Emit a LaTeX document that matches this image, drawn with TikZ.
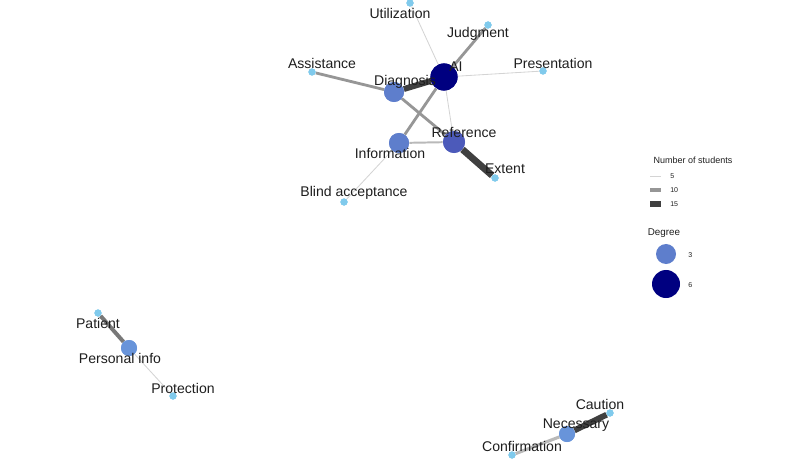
\documentclass[tikz,border=0pt]{standalone}
\usepackage{fontspec}
\setmainfont{Liberation Sans}
\definecolor{NavyNode} {RGB}{0,0,128}
\definecolor{MidNode}  {RGB}{94,126,204}
\definecolor{RefNode}  {RGB}{76,90,186}
\definecolor{PersNode} {RGB}{104,148,218}
\definecolor{LeafNode} {RGB}{128,202,236}
\definecolor{EdgeLight}{RGB}{212,212,212}
\definecolor{EdgeSoft} {RGB}{185,185,185}
\definecolor{EdgeMid}  {RGB}{150,150,150}
\definecolor{EdgeHeavy}{RGB}{120,120,120}
\definecolor{EdgeDark} {RGB}{64,64,64}
\definecolor{LabelInk} {RGB}{30,30,30}
\usetikzlibrary{positioning}

\begin{document}
\begin{tikzpicture}[x=0.025cm,y=-0.025cm,
  leaf/.style={circle,fill=LeafNode,inner sep=0pt,minimum size=0.18cm},
  hub/.style={circle,fill=MidNode,inner sep=0pt,minimum size=0.5cm},
  w5/.style={EdgeLight,line width=0.6pt},
  w8/.style={EdgeSoft,line width=1.4pt},
  w10/.style={EdgeMid,line width=2pt},
  w12/.style={EdgeHeavy,line width=2.8pt},
  w15/.style={EdgeDark,line width=4.2pt},
  lbl/.style={font=\fontsize{10}{12}\selectfont,text=LabelInk,inner sep=0pt},
  keytxt/.style={font=\fontsize{6.4}{8}\selectfont,text=LabelInk,inner sep=0pt},
  keynum/.style={font=\fontsize{5}{6}\selectfont,text=LabelInk,inner sep=0pt,anchor=west}]
  \useasboundingbox (0,0) rectangle (800,459);
  % Main cluster: nodes
  \node[circle,fill=NavyNode,inner sep=0pt,minimum size=0.68cm] (ai) at (444,77) {};
  \node[hub] (diag) at (394,92) {};
  \node[hub,fill=RefNode,minimum size=0.55cm] (ref) at (454,142) {};
  \node[hub] (info) at (399,143) {};
  \node[leaf] (util) at (410,3) {};
  \node[leaf] (judg) at (488,25) {};
  \node[leaf] (pres) at (543,71) {};
  \node[leaf] (assi) at (312,72) {};
  \node[leaf] (extn) at (495,178) {};
  \node[leaf] (blnd) at (344,202) {};
  % Main cluster: edges
  \draw[w5] (ai) -- (util);
  \draw[w10] (ai) -- (judg);
  \draw[w5] (ai) -- (pres);
  \draw[w15] (ai) -- (diag);
  \draw[w10] (ai) -- (info);
  \draw[w5] (ai) -- (ref);
  \draw[w10] (diag) -- (assi);
  \draw[w10] (diag) -- (ref);
  \draw[w8] (info) -- (ref);
  \draw[w5] (info) -- (blnd);
  \draw[EdgeDark,line width=4.8pt] (ref) -- (extn);
  % redraw node discs above edges
  \fill[NavyNode] (ai) circle (13.5);
  \fill[MidNode] (diag) circle (10);
  \fill[RefNode] (ref) circle (11);
  \fill[MidNode] (info) circle (10);
  \foreach \n in {util,judg,pres,assi,extn,blnd}
    \fill[LeafNode] (\n) circle (3.6);
  % Main cluster: labels
  \node[lbl] (l-ai) at (456,67) {AI};
  \node[lbl] (l-diag) at (405,82) {Diagnosis};
  \node[lbl] (l-ref) at (464,132) {Reference};
  \node[lbl] (l-info) at (390,153) {Information};
  \node[lbl] (l-util) at (400,13) {Utilization};
  \node[lbl] (l-judg) at (478,34) {Judgment};
  \node[lbl] (l-pres) at (553,63) {Presentation};
  \node[lbl] (l-assi) at (322,63) {Assistance};
  \node[lbl] (l-extn) at (505,169) {Extent};
  \node[lbl] (l-blnd) at (354,193) {Blind acceptance};

  % Bottom left cluster
  \node[hub,fill=PersNode,minimum size=0.4cm] (pers) at (129,348) {};
  \node[leaf] (pati) at (98,313) {};
  \node[leaf] (prot) at (173,396) {};
  \draw[w12] (pers) -- (pati);
  \draw[w5] (pers) -- (prot);
  \fill[PersNode] (pers) circle (8);
  \fill[LeafNode] (pati) circle (3.6);
  \fill[LeafNode] (prot) circle (3.6);
  \node[lbl] (l-pati) at (98,323) {Patient};
  \node[lbl] (l-pers) at (120,358) {Personal info};
  \node[lbl] (l-prot) at (183,388) {Protection};

  % Bottom right cluster
  \node[hub,fill=PersNode,minimum size=0.4cm] (nece) at (567,434) {};
  \node[leaf] (caut) at (610,413) {};
  \node[leaf] (conf) at (512,455) {};
  \draw[w15] (nece) -- (caut);
  \draw[w8,line width=2.2pt] (nece) -- (conf);
  \fill[PersNode] (nece) circle (8);
  \fill[LeafNode] (caut) circle (3.6);
  \fill[LeafNode] (conf) circle (3.6);
  \node[lbl] (l-caut) at (600,404) {Caution};
  \node[lbl] (l-nece) at (576,425) {Necessary};
  \node[lbl] (l-conf) at (522,446) {Confirmation};

  % Legend
  \node[keytxt] (key-w) at (693,160) {Number of students};
  \coordinate (k5a) at (650,176);  \coordinate (k5b) at (661,176);
  \coordinate (k10a) at (650,190); \coordinate (k10b) at (661,190);
  \coordinate (k15a) at (650,204); \coordinate (k15b) at (661,204);
  \draw[w5] (k5a) -- (k5b);
  \draw[EdgeMid,line width=2.2pt] (k10a) -- (k10b);
  \draw[EdgeDark,line width=4.2pt] (k15a) -- (k15b);
  \node[keynum] (key-5) at (670,176) {5};
  \node[keynum] (key-10) at (670,190) {10};
  \node[keynum] (key-15) at (670,204) {15};
  \node[keytxt,font=\fontsize{7}{8}\selectfont] (key-d) at (664,233) {Degree};
  \node[circle,fill=MidNode,inner sep=0pt,minimum size=0.5cm] (key-c3) at (666,254) {};
  \node[circle,fill=NavyNode,inner sep=0pt,minimum size=0.7cm] (key-c6) at (666,284) {};
  \node[keynum] (key-3) at (688,255) {3};
  \node[keynum] (key-6) at (688,285) {6};
\end{tikzpicture}
\end{document}
